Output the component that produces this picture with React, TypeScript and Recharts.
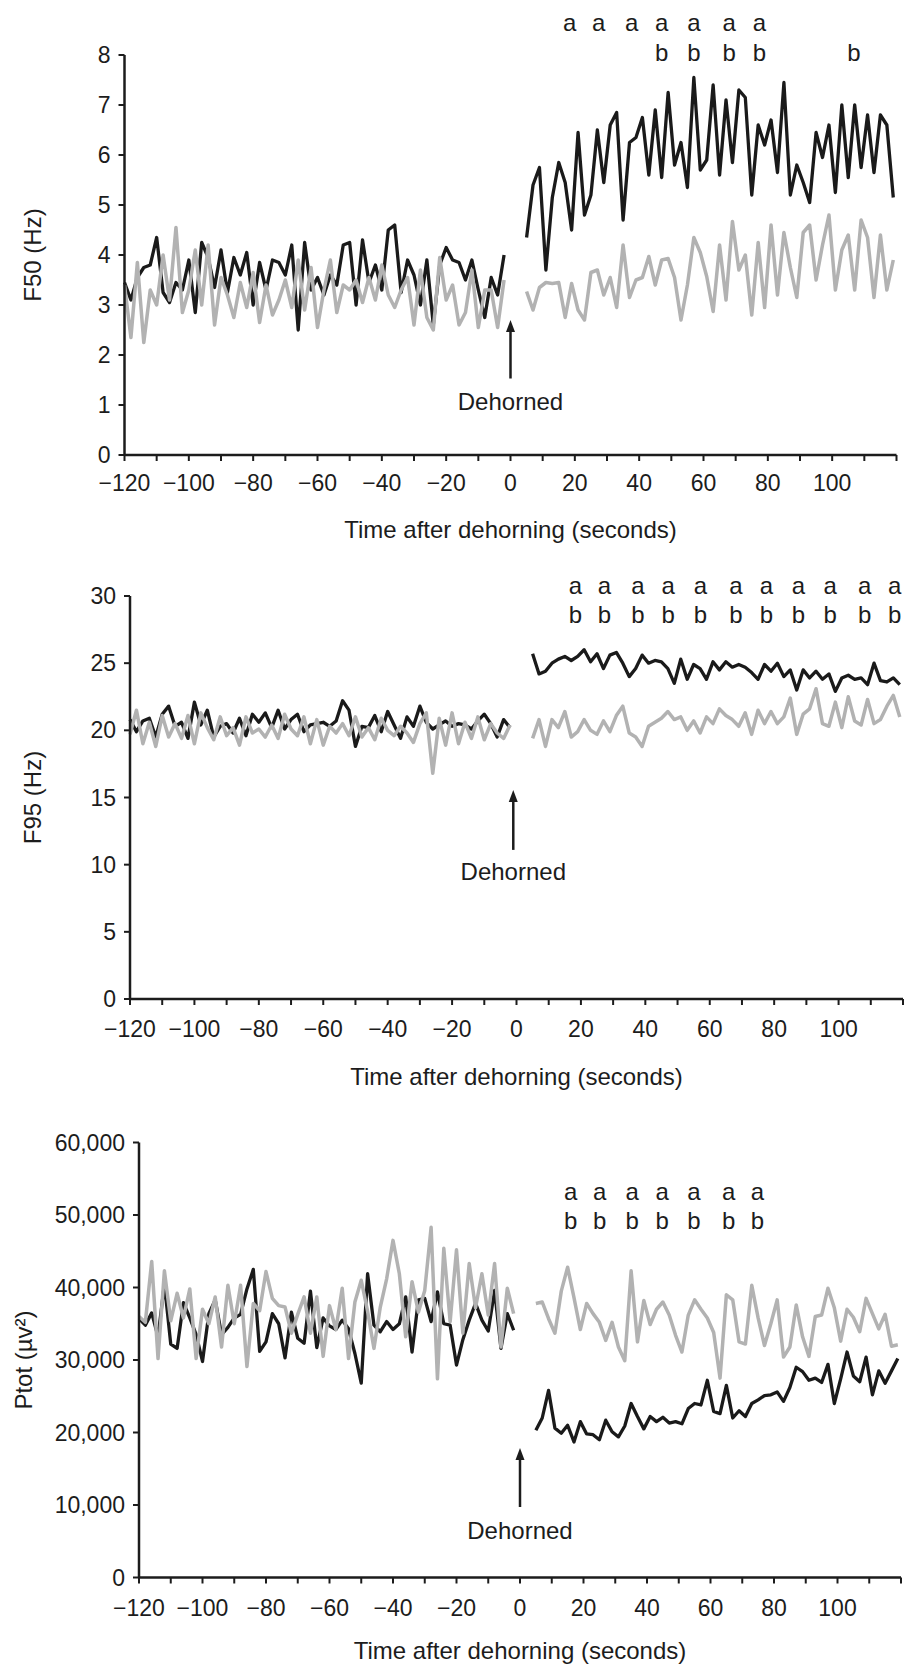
import React from 'react';
import { LineChart, Line, XAxis, YAxis, ReferenceLine, ReferenceDot, Label } from 'recharts';

const FONT = '"Liberation Sans", Arial, Helvetica, sans-serif';
const INK = '#1c1c1c';
const BLACK_LINE = '#1a1a1a';
const GREY_LINE = '#b2b2b2';

// sampling grid (seconds), every 2 s before and after dehorning
const preTime = Array.from({ length: 60 }, (_, i) => -120 + 2 * i);
const postTime = Array.from({ length: 58 }, (_, i) => 5 + 2 * i);

const xTicks = [-120, -110, -100, -90, -80, -70, -60, -50, -40, -30, -20, -10, 0, 10, 20, 30, 40, 50, 60, 70, 80, 90, 100, 110, 120];

// F50 (Hz)
const f50BlackPre = [
  3.45, 3.1, 3.55, 3.75, 3.8, 4.35, 3.25, 3.05, 3.45, 3.3,
  3.9, 2.85, 4.25, 3.95, 3.35, 4.1, 3.25, 3.95, 3.6, 4.05,
  3.0, 3.85, 3.3, 3.9, 3.85, 3.6, 4.2, 2.5, 4.25, 3.3,
  3.55, 3.2, 3.6, 3.4, 4.2, 4.25, 3.0, 4.3, 3.45, 3.8,
  3.3, 4.5, 4.6, 3.25, 3.9, 3.6, 3.0, 3.9, 2.6, 3.8,
  4.15, 3.9, 3.85, 3.5, 3.9, 3.3, 2.75, 3.55, 3.2, 4.0,
];
const f50GreyPre = [
  3.4, 2.35, 3.85, 2.25, 3.3, 3.0, 4.0, 3.1, 4.55, 2.85,
  3.3, 4.1, 3.0, 4.2, 2.6, 3.55, 3.2, 2.75, 3.45, 2.95,
  3.65, 2.65, 3.4, 2.8, 3.1, 3.5, 2.95, 3.9, 2.9, 3.75,
  2.55, 3.3, 3.9, 2.85, 3.4, 3.3, 3.5, 3.05, 3.55, 3.1,
  3.8, 3.2, 2.95, 3.3, 3.55, 2.6, 3.7, 2.75, 2.5, 3.95,
  3.1, 3.4, 2.6, 2.85, 3.7, 2.55, 3.3, 3.3, 2.55, 3.5,
];
const f50BlackPost = [
  4.35, 5.4, 5.75, 3.7, 5.15, 5.85, 5.45, 4.5, 6.45, 4.8,
  5.2, 6.5, 5.45, 6.6, 6.85, 4.7, 6.25, 6.35, 6.75, 5.6,
  6.9, 5.55, 7.25, 5.8, 6.25, 5.35, 7.55, 5.7, 5.9, 7.4,
  5.6, 7.1, 5.85, 7.3, 7.15, 5.2, 6.6, 6.2, 6.7, 5.65,
  7.45, 5.2, 5.8, 5.45, 5.05, 6.45, 5.95, 6.6, 5.25, 7.0,
  5.55, 7.0, 5.75, 6.8, 5.65, 6.8, 6.6, 5.15,
];
const f50GreyPost = [
  3.27, 2.9, 3.35, 3.45, 3.43, 3.45, 2.75, 3.43, 2.9, 2.7,
  3.65, 3.7, 3.2, 3.55, 2.95, 4.2, 3.15, 3.5, 3.55, 3.97,
  3.4, 3.9, 3.93, 3.55, 2.7, 3.4, 4.35, 4.05, 3.57, 2.87,
  4.2, 3.1, 4.67, 3.7, 4.0, 2.8, 4.25, 2.95, 4.6, 3.2,
  4.45, 3.75, 3.15, 4.45, 4.6, 3.5, 4.2, 4.8, 3.3, 4.1,
  4.4, 3.3, 4.7, 4.35, 3.15, 4.4, 3.3, 3.9,
];
const f50ATimes = [18.4, 27.4, 37.7, 47, 57, 68, 77.4];
const f50BTimes = [47, 57, 68, 77.4, 106.8];

// F95 (Hz)
const f95BlackPre = [
  20.8, 19.9, 20.7, 20.9, 19.5, 21.2, 21.8, 20.3, 20.6, 19.4,
  22.1, 20.4, 21.5, 19.5, 20.3, 20.5, 19.8, 20.9, 19.6, 21.2,
  20.6, 21.3, 20.2, 21.5, 20.1, 20.8, 21.2, 19.9, 20.4, 20.5,
  20.6, 20.3, 20.7, 22.2, 21.5, 18.8, 20.3, 20.2, 21.1, 19.9,
  21.4, 20.4, 19.4, 21.0, 20.3, 21.8, 20.6, 20.1, 20.4, 20.7,
  20.3, 20.5, 20.4, 20.1, 20.7, 21.2, 20.5, 19.5, 20.8, 20.2,
];
const f95GreyPre = [
  19.7, 21.5, 19.0, 20.6, 18.8, 21.1, 19.5, 20.5, 19.4, 21.1,
  19.0, 21.3, 20.2, 19.3, 21.0, 19.6, 20.2, 18.9, 21.0, 19.8,
  20.1, 19.5, 20.4, 19.4, 21.2, 20.1, 19.6, 21.0, 19.0, 20.8,
  18.9, 20.3, 19.8, 20.5, 19.6, 21.0, 19.5, 20.2, 19.3, 20.9,
  20.0, 19.6, 20.3, 19.8, 19.1, 20.5, 21.3, 16.8, 20.9, 18.9,
  21.3, 19.0, 20.6, 19.4, 21.0, 19.3, 20.5, 19.8, 19.4, 20.4,
];
const f95BlackPost = [
  25.7, 24.2, 24.4, 25.0, 25.3, 25.5, 25.2, 25.5, 26.0, 25.1,
  25.7, 24.6, 25.6, 25.8, 25.0, 24.0, 24.6, 25.6, 25.0, 25.2,
  25.1, 24.6, 23.5, 25.3, 23.8, 24.9, 24.6, 23.8, 25.1, 24.5,
  25.1, 24.7, 24.9, 24.7, 24.3, 23.8, 24.9, 24.4, 25.0, 24.0,
  24.5, 23.0, 24.5, 23.9, 24.4, 23.8, 24.2, 22.9, 23.9, 24.1,
  23.8, 23.9, 23.4, 25.0, 23.7, 23.6, 23.9, 23.4,
];
const f95GreyPost = [
  19.4, 20.8, 18.8, 20.8, 20.2, 21.4, 19.5, 19.9, 20.8, 20.0,
  19.7, 20.7, 19.9, 21.1, 21.8, 19.8, 19.5, 18.8, 20.3, 20.6,
  20.9, 21.4, 20.8, 21.0, 20.0, 20.7, 19.8, 21.0, 20.5, 21.6,
  21.1, 20.8, 20.3, 21.3, 19.7, 21.5, 20.5, 21.4, 20.5, 21.0,
  22.4, 19.7, 21.2, 21.6, 23.1, 20.5, 20.3, 22.1, 20.2, 22.5,
  20.7, 20.4, 22.3, 20.5, 20.8, 21.8, 22.6, 21.0,
];
const f95ATimes = [18.3, 27.3, 37.7, 47.1, 57.1, 68.1, 77.6, 87.5, 97.4, 108.1, 117.4];
const f95BTimes = [18.3, 27.3, 37.7, 47.1, 57.1, 68.1, 77.6, 87.5, 97.4, 108.1, 117.4];

// Ptot (µv²)
const ptotBlackPre = [
  35700, 34800, 36500, 33200, 40500, 32200, 31600, 37900, 35800, 33500,
  29800, 36400, 38300, 33500, 34500, 35800, 36300, 39800, 42500, 31200,
  32500, 36400, 35000, 30300, 36600, 33000, 32300, 39500, 31700, 35800,
  34700, 34200, 35500, 34300, 30900, 26800, 41900, 34800, 33900, 35300,
  34200, 35000, 38700, 31100, 38300, 38500, 35300, 39400, 35000, 34800,
  29300, 32800, 35500, 37800, 35500, 34000, 39600, 31600, 36400, 34100,
];
const ptotGreyPre = [
  36000, 35200, 43600, 30200, 42300, 35400, 39200, 35800, 39800, 30200,
  37000, 35000, 38700, 31800, 40300, 35000, 40300, 29100, 37800, 36800,
  42200, 38500, 37500, 37300, 33700, 36300, 38700, 33700, 38700, 30500,
  37500, 34200, 39900, 30200, 38000, 41000, 36700, 31600, 37300, 41200,
  46500, 41900, 33200, 40800, 36600, 39600, 48300, 27400, 45400, 35300,
  45200, 33700, 43300, 37200, 41900, 36200, 43300, 31800, 39900, 36400,
];
const ptotBlackPost = [
  20300, 22000, 25800, 20600, 19900, 21000, 18700, 21500, 19800, 19700,
  19000, 21700, 20100, 19400, 20900, 24000, 22200, 20500, 22200, 21500,
  22100, 21300, 21500, 21200, 23300, 24000, 23800, 27200, 22900, 22600,
  26500, 22000, 23000, 22200, 24000, 24500, 25100, 25200, 25600, 24300,
  26200, 29000, 28400, 27200, 27500, 26900, 29400, 24000, 27400, 31100,
  27800, 27000, 30400, 25200, 28500, 26800, 28500, 30200,
];
const ptotGreyPost = [
  37800, 38000, 35700, 33700, 39500, 42800, 38600, 34200, 37800, 36400,
  35200, 32700, 35200, 31800, 29900, 42300, 32500, 38200, 34900, 37000,
  38000, 36200, 33400, 31100, 36200, 38300, 37000, 35800, 33800, 27500,
  39000, 38300, 32500, 32200, 40300, 35800, 32000, 35000, 38300, 30400,
  31800, 37600, 33200, 30500, 36000, 36200, 39900, 37200, 32600, 37000,
  35900, 33900, 38500, 36400, 34300, 36300, 31900, 32100,
];
const ptotATimes = [16, 25.1, 35.3, 44.8, 54.8, 65.7, 74.8];
const ptotBTimes = [16, 25.1, 35.3, 44.8, 54.8, 65.7, 74.8];

function buildRows(bPre: number[], gPre: number[], bPost: number[], gPost: number[]) {
  return [
    ...preTime.map((t, i) => ({ t, black: bPre[i], grey: gPre[i] })),
    { t: 1.5, black: null, grey: null },
    ...postTime.map((t, i) => ({ t, black: bPost[i], grey: gPost[i] })),
  ];
}

const minus = (v: number) => (v < 0 ? `\u2212${Math.abs(v)}` : `${v}`);
const xFormat = (v: number) => (v % 20 === 0 && v <= 100 ? minus(v) : '');

const Arrow = (props: any) => {
  const { x1, y1, x2, y2 } = props;
  const tip = Math.min(y1, y2);
  const base = Math.max(y1, y2);
  const x = (x1 + x2) / 2;
  return (
    <g>
      <line x1={x} y1={base} x2={x} y2={tip + 8} stroke={INK} strokeWidth={2.5} />
      <polygon points={`${x},${tip} ${x - 4.5},${tip + 12} ${x + 4.5},${tip + 12}`} fill={INK} />
    </g>
  );
};

type PanelProps = {
  top: number;
  height: number;
  margin: { top: number; right: number; bottom: number; left: number };
  rows: any[];
  yDomain: [number, number];
  yTicks: number[];
  yFormat?: (v: number) => string;
  yTitle: string;
  yTitleX: number;
  xTitleGap: number;
  xTickMargin: number;
  aLevel: number;
  bLevel: number;
  aTimes: number[];
  bTimes: number[];
  arrowX: number;
  arrowBase: number;
  arrowTip: number;
  noteLevel: number;
};

function Panel(p: PanelProps) {
  const tickStyle = { fill: INK, fontSize: 23, fontFamily: FONT };
  const letterLabel = (v: string) => ({ value: v, position: 'center' as const, fill: INK, fontSize: 24, fontFamily: FONT });
  return (
    <div style={{ position: 'absolute', left: 0, top: p.top }}>
      <LineChart width={905} height={p.height} data={p.rows} margin={p.margin}>
        <XAxis
          dataKey="t"
          type="number"
          domain={[-120, 120]}
          ticks={xTicks}
          interval={0}
          tickFormatter={xFormat}
          height={60}
          tick={tickStyle}
          tickSize={6}
          tickMargin={p.xTickMargin}
          axisLine={{ stroke: INK, strokeWidth: 2.5 }}
          tickLine={{ stroke: INK, strokeWidth: 2 }}
          label={
            <Label
              content={(lp: any) => {
                const vb = lp.viewBox;
                return (
                  <text x={vb.x + vb.width / 2} y={vb.y + p.xTitleGap} textAnchor="middle" dominantBaseline="central" fill={INK} fontSize={24} fontFamily={FONT}>
                    Time after dehorning (seconds)
                  </text>
                );
              }}
            />
          }
        />
        <YAxis
          type="number"
          domain={p.yDomain}
          ticks={p.yTicks}
          interval={0}
          width={60}
          tickFormatter={p.yFormat}
          tick={tickStyle}
          tickSize={6}
          tickMargin={8}
          axisLine={{ stroke: INK, strokeWidth: 2.5 }}
          tickLine={{ stroke: INK, strokeWidth: 2 }}
          label={
            <Label
              content={(lp: any) => {
                const vb = lp.viewBox;
                const cy = vb.y + vb.height / 2;
                return (
                  <text x={p.yTitleX} y={cy} transform={`rotate(-90, ${p.yTitleX}, ${cy})`} textAnchor="middle" dominantBaseline="central" fill={INK} fontSize={24} fontFamily={FONT}>
                    {p.yTitle}
                  </text>
                );
              }}
            />
          }
        />
        <Line type="linear" dataKey="black" stroke={BLACK_LINE} strokeWidth={3.3} strokeLinejoin="round" dot={false} activeDot={false} isAnimationActive={false} />
        <Line type="linear" dataKey="grey" stroke={GREY_LINE} strokeWidth={3.5} strokeLinejoin="round" dot={false} activeDot={false} isAnimationActive={false} />
        <ReferenceLine
          segment={[{ x: p.arrowX, y: p.arrowBase }, { x: p.arrowX, y: p.arrowTip }]}
          stroke={INK}
          shape={Arrow}
        />
        <ReferenceDot x={p.arrowX} y={p.noteLevel} r={0} fill="none" stroke="none" ifOverflow="visible" label={letterLabel('Dehorned')} />
        {p.aTimes.map((t, i) => (
          <ReferenceDot key={`a${i}`} x={t} y={p.aLevel} r={0} fill="none" stroke="none" ifOverflow="visible" label={letterLabel('a')} />
        ))}
        {p.bTimes.map((t, i) => (
          <ReferenceDot key={`b${i}`} x={t} y={p.bLevel} r={0} fill="none" stroke="none" ifOverflow="visible" label={letterLabel('b')} />
        ))}
      </LineChart>
    </div>
  );
}

export default function App() {
  return (
    <div style={{ position: 'absolute', left: 0, top: 0, width: 905, height: 1666, background: '#fff' }}>
      <Panel
        top={0}
        height={560}
        margin={{ top: 55, right: 8.5, bottom: 45, left: 64.5 }}
        rows={buildRows(f50BlackPre, f50GreyPre, f50BlackPost, f50GreyPost)}
        yDomain={[0, 8]}
        yTicks={[0, 1, 2, 3, 4, 5, 6, 7, 8]}
        yTitle="F50 (Hz)"
        yTitleX={32}
        xTitleGap={74}
        xTickMargin={14}
        aLevel={8.66}
        bLevel={8.06}
        aTimes={f50ATimes}
        bTimes={f50BTimes}
        arrowX={0}
        arrowBase={1.53}
        arrowTip={2.7}
        noteLevel={1.08}
      />
      <Panel
        top={560}
        height={540}
        margin={{ top: 36, right: 2, bottom: 41, left: 70 }}
        rows={buildRows(f95BlackPre, f95GreyPre, f95BlackPost, f95GreyPost)}
        yDomain={[0, 30]}
        yTicks={[0, 5, 10, 15, 20, 25, 30]}
        yTitle="F95 (Hz)"
        yTitleX={32}
        xTitleGap={77}
        xTickMargin={16}
        aLevel={30.75}
        bLevel={28.6}
        aTimes={f95ATimes}
        bTimes={f95BTimes}
        arrowX={-1}
        arrowBase={11.1}
        arrowTip={15.56}
        noteLevel={9.5}
      />
      <Panel
        top={1100}
        height={566}
        margin={{ top: 42.5, right: 4, bottom: 28.5, left: 79 }}
        rows={buildRows(ptotBlackPre, ptotGreyPre, ptotBlackPost, ptotGreyPost)}
        yDomain={[0, 60000]}
        yTicks={[0, 10000, 20000, 30000, 40000, 50000, 60000]}
        yFormat={(v: number) => v.toLocaleString('en-US')}
        yTitle="Ptot (µv²)"
        yTitleX={23}
        xTitleGap={73}
        xTickMargin={16}
        aLevel={53300}
        bLevel={49300}
        aTimes={ptotATimes}
        bTimes={ptotBTimes}
        arrowX={0}
        arrowBase={9720}
        arrowTip={17860}
        noteLevel={6550}
      />
    </div>
  );
}
